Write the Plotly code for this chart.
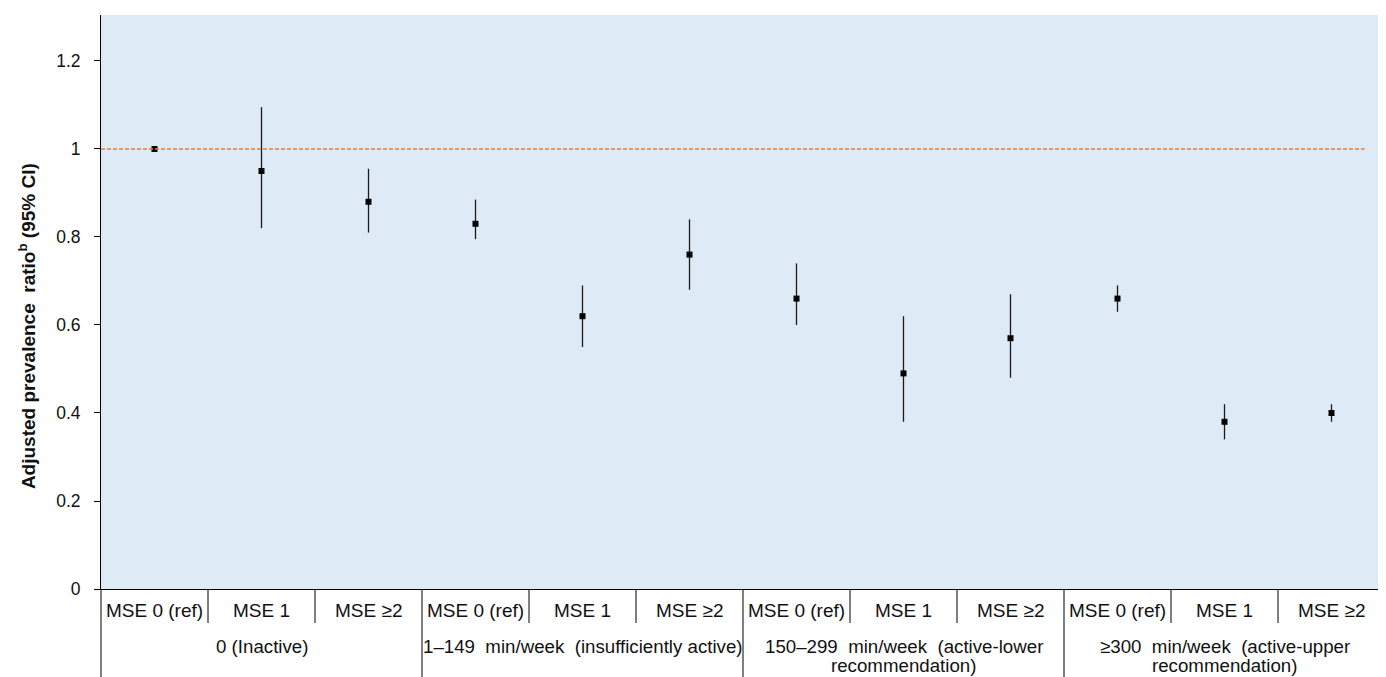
import plotly.graph_objects as go

# ---- data ----
groups = [
    "0 (Inactive)",
    "1–149\u00a0 min/week\u00a0 (insufficiently active)",
    "150–299\u00a0 min/week\u00a0 (active-lower<br>recommendation)",
    "≥300\u00a0 min/week\u00a0 (active-upper<br>recommendation)",
]
mse_levels = ["MSE 0 (ref)", "MSE 1", "MSE ≥2"]
ratio = [1.00, 0.95, 0.88, 0.83, 0.62, 0.76, 0.66, 0.49, 0.57, 0.66, 0.38, 0.40]
ci_low = [0.995, 0.82, 0.81, 0.795, 0.55, 0.68, 0.60, 0.38, 0.48, 0.63, 0.34, 0.38]
ci_high = [1.005, 1.095, 0.955, 0.885, 0.69, 0.84, 0.74, 0.62, 0.67, 0.69, 0.42, 0.42]
reference_value = 1.0

n_mse = len(mse_levels)
labels = [m for g in groups for m in mse_levels]
xpos = list(range(len(labels)))

FONT = "Liberation Sans, Arial, sans-serif"
H_PLOT = 574.0  # plot height in px
W_PLOT = 1284.0

fig = go.Figure()
fig.add_trace(go.Scatter(
    x=xpos, y=ratio, mode="markers",
    marker=dict(symbol="square", size=6, color="black"),
    error_y=dict(type="data", symmetric=False,
                 array=[h - r for h, r in zip(ci_high, ratio)],
                 arrayminus=[r - l for r, l in zip(ratio, ci_low)],
                 color="#1a1a1a", thickness=1.3, width=0),
    showlegend=False, hoverinfo="skip",
))

shapes = []
# reference line
shapes.append(dict(type="line", xref="x", yref="y", x0=-0.5, x1=11.31,
                   y0=reference_value, y1=reference_value,
                   line=dict(color="#ED7D31", width=1.6, dash="4px,2px")))
# y-axis extension through table
shapes.append(dict(type="line", xref="paper", yref="paper", x0=0, x1=0,
                   y0=0, y1=-88 / H_PLOT, line=dict(color="black", width=1)))
# separators
for i in range(len(labels) - 1):
    is_group = (i + 1) % n_mse == 0
    y1 = -88 / H_PLOT if is_group else -34 / H_PLOT
    shapes.append(dict(type="line", xref="x", yref="paper", x0=i + 0.5, x1=i + 0.5,
                       y0=0, y1=y1, line=dict(color="black", width=1)))

annotations = []
for i, lab in enumerate(labels):
    annotations.append(dict(x=i, y=-21 / H_PLOT, xref="x", yref="paper",
                            text=lab, showarrow=False, yanchor="middle",
                            font=dict(family=FONT, size=19, color="#111")))
for gi, g in enumerate(groups):
    for li, line in enumerate(g.split("<br>")):
        annotations.append(dict(x=gi * n_mse + 1, y=-(57 + 19 * li) / H_PLOT,
                                xref="x", yref="paper",
                                text=line, showarrow=False, yanchor="middle",
                                font=dict(family=FONT, size=18.7, color="#111")))
annotations.append(dict(x=-74 / W_PLOT, y=0.458, xref="paper", yref="paper",
                        text="<b>Adjusted prevalence\u00a0 ratio<sup>b</sup> (95% CI)</b>",
                        textangle=-90, showarrow=False, xanchor="center", yanchor="middle",
                        font=dict(family=FONT, size=19, color="#111")))

fig.update_layout(
    width=1378, height=669, autosize=False,
    margin=dict(l=93, r=1, t=7, b=88),
    paper_bgcolor="white", plot_bgcolor="#DEEBF7",
    shapes=shapes, annotations=annotations,
    xaxis=dict(range=[-0.5, 11.5], showticklabels=False, showgrid=False,
               zeroline=False, showline=True, linecolor="black", linewidth=1,
               ticks=""),
    yaxis=dict(range=[0, 1.3045], dtick=0.2, tick0=0, showgrid=False, zeroline=False,
               showline=True, linecolor="black", linewidth=1,
               ticks="outside", ticklen=6, tickcolor="black",
               ticklabelstandoff=10,
               tickfont=dict(family=FONT, size=17.5, color="#111")),
)

fig.write_html("out.html")
